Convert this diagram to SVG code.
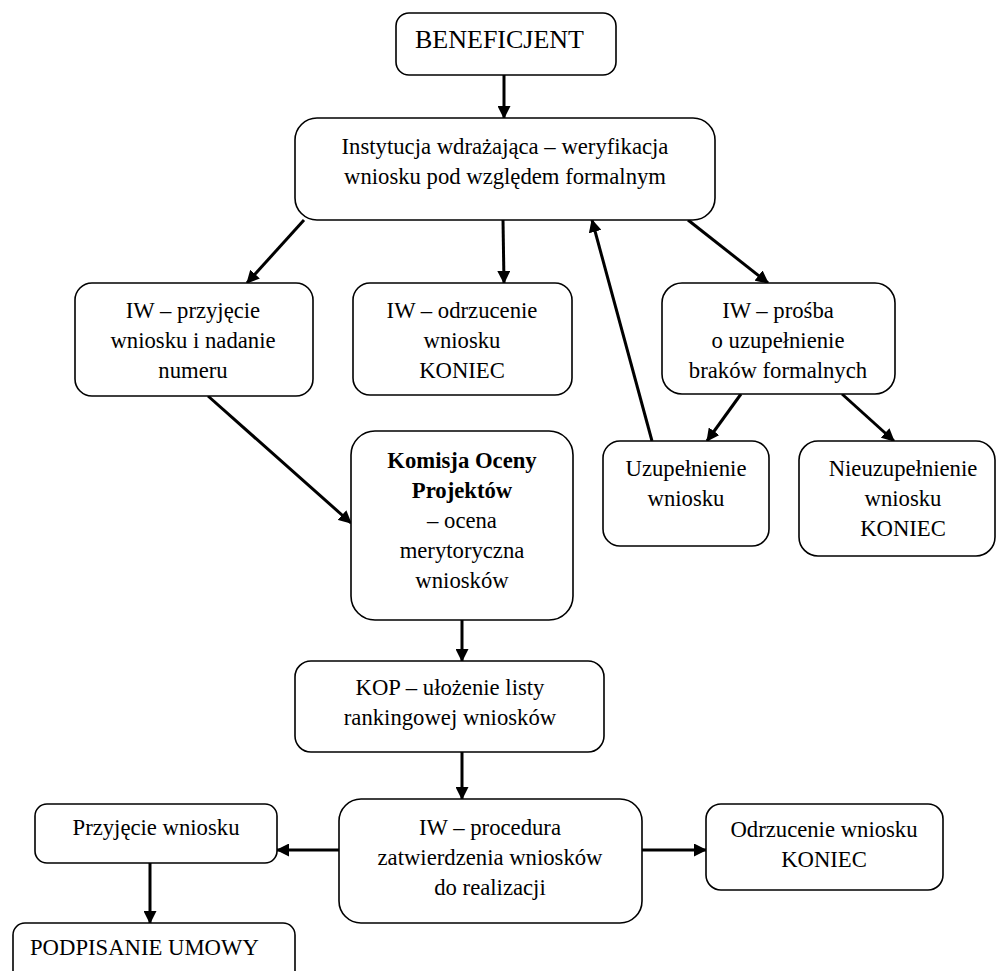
<svg xmlns="http://www.w3.org/2000/svg" width="997" height="971" viewBox="0 0 997 971">
<defs>
<marker id="ah" markerUnits="userSpaceOnUse" markerWidth="13" markerHeight="13" refX="12" refY="6.5" orient="auto">
<path d="M0,0 L13,6.5 L0,13 z" fill="#000"/>
</marker>
<style>
rect{fill:#fff;stroke:#000;stroke-width:1.6}
text{font-family:'Liberation Serif','DejaVu Serif',serif;font-size:22.7px;fill:#000;text-anchor:middle}
.l{text-anchor:start}
.b{font-weight:bold}
#connectors line{stroke:#000;stroke-width:3;marker-end:url(#ah)}
</style>
</defs>
<rect x="0" y="0" width="997" height="971" style="fill:#fff;stroke:none"/>
<g id="connectors">
<line x1="504" y1="75" x2="504" y2="118"/>
<line x1="304" y1="220" x2="247" y2="283"/>
<line x1="503" y1="220" x2="504" y2="283"/>
<line x1="688" y1="220" x2="768" y2="283"/>
<line x1="652" y1="441" x2="592" y2="220"/>
<line x1="741" y1="394" x2="707" y2="441"/>
<line x1="842" y1="394" x2="894" y2="441"/>
<line x1="208" y1="396" x2="351" y2="523"/>
<line x1="462" y1="620" x2="462" y2="661"/>
<line x1="462" y1="752" x2="462" y2="799"/>
<line x1="339" y1="850" x2="277" y2="850"/>
<line x1="642" y1="850" x2="706" y2="850"/>
<line x1="150" y1="863" x2="150" y2="923"/>
</g>
<g font-family="Liberation Serif, DejaVu Serif, serif">
<g id="beneficjent">
<rect x="396" y="13" width="220" height="62" rx="13"/>
<text class="l" x="415" y="48" style="font-size:26px">BENEFICJENT</text>
</g>
<g id="instytucja">
<rect x="295" y="118" width="420" height="102" rx="22"/>
<text x="505" y="154">Instytucja wdrażająca – weryfikacja</text>
<text x="505" y="184">wniosku pod względem formalnym</text>
</g>
<g id="przyjecie">
<rect x="75" y="283" width="238" height="113" rx="17"/>
<text x="193" y="318">IW – przyjęcie</text>
<text x="193" y="348">wniosku i nadanie</text>
<text x="193" y="378">numeru</text>
</g>
<g id="odrzucenie">
<rect x="353" y="283" width="219" height="112" rx="17"/>
<text x="462" y="318">IW – odrzucenie</text>
<text x="462" y="348">wniosku</text>
<text x="462" y="378">KONIEC</text>
</g>
<g id="prosba">
<rect x="662" y="283" width="233" height="111" rx="20"/>
<text x="778" y="318">IW – prośba</text>
<text x="778" y="348">o uzupełnienie</text>
<text x="778" y="378">braków formalnych</text>
</g>
<g id="uzupelnienie">
<rect x="603" y="441" width="166" height="105" rx="17"/>
<text x="686" y="476">Uzupełnienie</text>
<text x="686" y="506">wniosku</text>
</g>
<g id="nieuzupelnienie">
<rect x="799" y="441" width="196" height="115" rx="19"/>
<text x="903" y="476">Nieuzupełnienie</text>
<text x="903" y="506">wniosku</text>
<text x="903" y="536">KONIEC</text>
</g>
<g id="komisja">
<rect x="351" y="431" width="222" height="189" rx="24"/>
<text class="b" x="462" y="468">Komisja Oceny</text>
<text class="b" x="462" y="498">Projektów</text>
<text x="462" y="528">– ocena</text>
<text x="462" y="558">merytoryczna</text>
<text x="462" y="588">wniosków</text>
</g>
<g id="kop">
<rect x="295" y="661" width="309" height="91" rx="16"/>
<text x="450" y="695">KOP – ułożenie listy</text>
<text x="450" y="725">rankingowej wniosków</text>
</g>
<g id="procedura">
<rect x="339" y="799" width="303" height="124" rx="22"/>
<text x="490" y="835">IW – procedura</text>
<text x="490" y="865">zatwierdzenia wniosków</text>
<text x="490" y="895">do realizacji</text>
</g>
<g id="przyjecie-wniosku">
<rect x="35" y="804" width="242" height="59" rx="12"/>
<text x="156" y="835">Przyjęcie wniosku</text>
</g>
<g id="odrzucenie-wniosku">
<rect x="706" y="804" width="237" height="86" rx="15"/>
<text x="824" y="837">Odrzucenie wniosku</text>
<text x="824" y="867">KONIEC</text>
</g>
<g id="podpisanie">
<rect x="13" y="923" width="282" height="80" rx="12"/>
<text class="l" x="30" y="955">PODPISANIE UMOWY</text>
</g>
</g>
</svg>
